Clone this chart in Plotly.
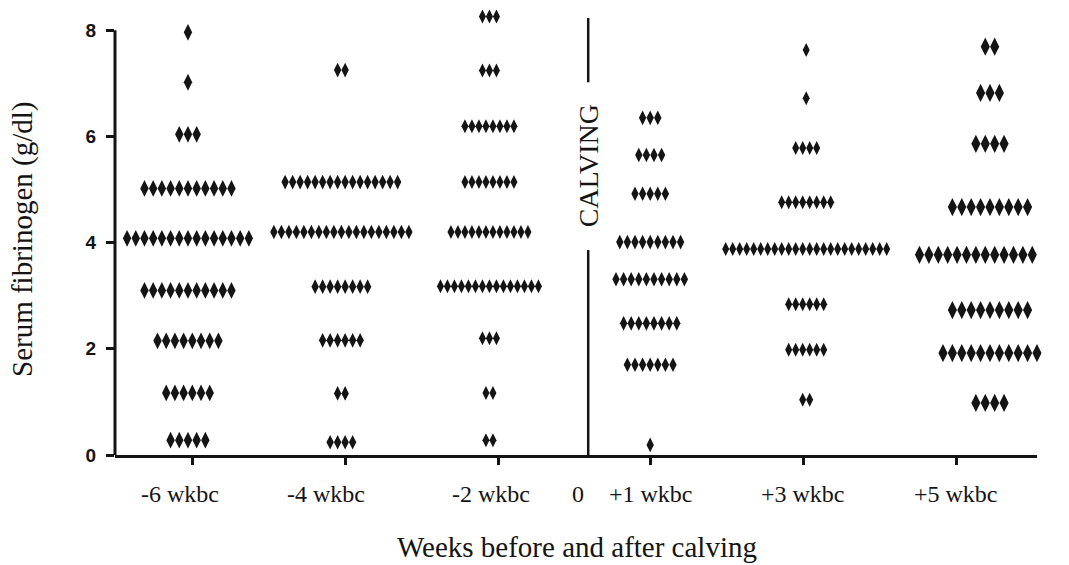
import plotly.graph_objects as go

# Sampling times (x categories)
GROUPS = ["-6 wkbc", "-4 wkbc", "-2 wkbc", "+1 wkbc", "+3 wkbc", "+5 wkbc"]

# Fibrinogen levels (g/dl) and number of animals at each level, per sampling time
LEVELS_M6 = [7.96, 7.02, 6.04, 5.02, 4.08, 3.10, 2.15, 1.17, 0.28]
COUNTS_M6 = [1, 1, 3, 11, 15, 11, 8, 6, 5]

LEVELS_M4 = [7.25, 5.14, 4.20, 3.17, 2.16, 1.16, 0.24]
COUNTS_M4 = [2, 16, 19, 8, 6, 2, 4]

LEVELS_M2 = [8.26, 7.24, 6.19, 5.14, 4.20, 3.18, 2.20, 1.17, 0.28]
COUNTS_M2 = [3, 3, 8, 8, 12, 15, 3, 2, 2]

LEVELS_P1 = [6.35, 5.65, 4.92, 4.01, 3.31, 2.48, 1.70, 0.19]
COUNTS_P1 = [3, 4, 5, 9, 10, 8, 7, 1]

LEVELS_P3 = [7.63, 6.72, 5.78, 4.76, 3.88, 2.84, 1.98, 1.04]
COUNTS_P3 = [1, 1, 4, 8, 24, 6, 6, 2]

LEVELS_P5 = [7.69, 6.82, 5.86, 4.67, 3.77, 2.73, 1.92, 0.98]
COUNTS_P5 = [2, 3, 4, 9, 16, 9, 11, 4]

LEVELS = [LEVELS_M6, LEVELS_M4, LEVELS_M2, LEVELS_P1, LEVELS_P3, LEVELS_P5]
COUNTS = [COUNTS_M6, COUNTS_M4, COUNTS_M2, COUNTS_P1, COUNTS_P3, COUNTS_P5]

# ---- layout geometry -------------------------------------------------------
W, H = 1069, 565
M_L, M_R, M_T, M_B = 115, 32, 9, 110
X_RANGE = [0.49, 6.53]
Y_RANGE = [0, 8.4]          # head-room above 8 for the highest diamonds
Y_AXIS_TOP = 8              # the drawn y axis stops at 8
PLOT_W = W - M_L - M_R
PLOT_H = H - M_T - M_B
px_per_unit = PLOT_W / (X_RANGE[1] - X_RANGE[0])

TICK_POS = [1, 2, 3, 4, 5, 6]
STRIP_CENTER = [0.968, 1.973, 2.943, 3.996, 5.018, 6.222]   # column centre of each strip
DOT_GAP_PX = [8.7, 7.5, 7.0, 7.6, 7.0, 9.4]                  # horizontal pitch of diamonds
DOT_SIZE = [12, 10.5, 10, 10.5, 10, 13]
LABEL_POS = [0.915, 1.87, 2.955, 4.0, 5.0, 6.0]
CALVING_X = 3.59
ZERO_LABEL_X = 3.52

INK = "#141414"
SERIF = "Liberation Serif, Times New Roman, serif"
SANS = "Liberation Sans, Arial, sans-serif"


def px_to_paper(px_x, px_y):
    """Convert a pixel position (from top-left of the figure) to paper coords."""
    return (px_x - M_L) / PLOT_W, (H - px_y - M_B) / PLOT_H


fig = go.Figure()

for g, name in enumerate(GROUPS):
    xs, ys = [], []
    step = DOT_GAP_PX[g] / px_per_unit
    for level, n in zip(LEVELS[g], COUNTS[g]):
        for i in range(n):
            xs.append(STRIP_CENTER[g] + (i - (n - 1) / 2) * step)
            ys.append(level)
    fig.add_trace(go.Scatter(
        x=xs, y=ys, mode="markers", name=name, showlegend=False,
        cliponaxis=False,
        marker=dict(symbol="diamond-tall", size=DOT_SIZE[g], color=INK,
                    line=dict(width=0)),
    ))

# y axis line, drawn only from 0 to 8
fig.add_shape(type="line", x0=0, x1=0, y0=0, y1=Y_AXIS_TOP,
              xref="paper", yref="y", line=dict(color=INK, width=3))

# Calving marker: vertical line broken by a rotated label
fig.add_shape(type="line", x0=CALVING_X, x1=CALVING_X, y0=-0.09, y1=3.86,
              xref="x", yref="y", line=dict(color=INK, width=2.5))
fig.add_shape(type="line", x0=CALVING_X, x1=CALVING_X, y0=7.02, y1=8.23,
              xref="x", yref="y", line=dict(color=INK, width=2.5))
fig.add_annotation(x=CALVING_X, y=5.44, xref="x", yref="y", text="CALVING",
                   textangle=-90, showarrow=False,
                   xanchor="center", yanchor="middle",
                   font=dict(family=SERIF, size=28, color=INK))

# Category labels under the x axis
for pos, name in zip(LABEL_POS, GROUPS):
    fig.add_annotation(x=pos, y=0, xref="x", yref="y", text=name,
                       showarrow=False, xanchor="center", yanchor="top", yshift=-24,
                       font=dict(family=SERIF, size=24, color=INK))
fig.add_annotation(x=ZERO_LABEL_X, y=0, xref="x", yref="y", text="0",
                   showarrow=False, xanchor="center", yanchor="top", yshift=-24,
                   font=dict(family=SERIF, size=24, color=INK))

# Axis titles
tx, ty = px_to_paper(577, 547)
fig.add_annotation(x=tx, y=ty, xref="paper", yref="paper",
                   text="Weeks before and after calving", showarrow=False,
                   xanchor="center", yanchor="middle",
                   font=dict(family=SERIF, size=29, color=INK))
tx, ty = px_to_paper(22, 240)
fig.add_annotation(x=tx, y=ty, xref="paper", yref="paper",
                   text="Serum fibrinogen (g/dl)", textangle=-90, showarrow=False,
                   xanchor="center", yanchor="middle",
                   font=dict(family=SERIF, size=29, color=INK))

fig.update_layout(
    width=W, height=H,
    margin=dict(l=M_L, r=M_R, t=M_T, b=M_B),
    plot_bgcolor="white", paper_bgcolor="white",
    xaxis=dict(range=X_RANGE, tickvals=TICK_POS, ticktext=[""] * 6,
               ticks="outside", ticklen=7, tickwidth=3, tickcolor=INK,
               showline=True, linecolor=INK, linewidth=3,
               showgrid=False, zeroline=False, fixedrange=True),
    yaxis=dict(range=Y_RANGE, tickvals=[0, 2, 4, 6, 8],
               ticks="outside", ticklen=8, tickwidth=3, tickcolor=INK,
               showline=False, ticklabelstandoff=6,
               tickfont=dict(family=SANS, size=19, color=INK, weight="bold"),
               showgrid=False, zeroline=False, fixedrange=True),
)

fig.write_html("out.html")
